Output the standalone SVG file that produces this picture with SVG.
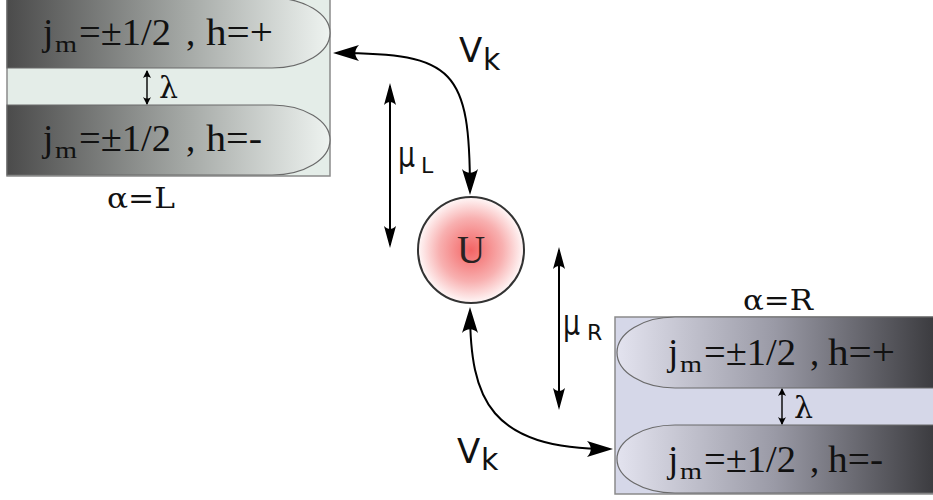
<svg xmlns="http://www.w3.org/2000/svg" width="933" height="500" viewBox="0 0 933 500">
  <defs>
    <linearGradient id="bandL" gradientUnits="userSpaceOnUse" x1="7" y1="0" x2="330" y2="0">
      <stop offset="0" stop-color="#4b4b4b"/>
      <stop offset="0.55" stop-color="#a4a8a5"/>
      <stop offset="1" stop-color="#eef3f0"/>
    </linearGradient>
    <linearGradient id="bandR" gradientUnits="userSpaceOnUse" x1="615" y1="0" x2="933" y2="0">
      <stop offset="0" stop-color="#e4e4f0"/>
      <stop offset="0.5" stop-color="#9a9aa6"/>
      <stop offset="1" stop-color="#3c3c40"/>
    </linearGradient>
    <radialGradient id="dot" cx="0.5" cy="0.5" r="0.5">
      <stop offset="0" stop-color="#f36464"/>
      <stop offset="0.6" stop-color="#f8b0b0"/>
      <stop offset="1" stop-color="#fff8f8"/>
    </radialGradient>
    <marker id="headV" markerUnits="userSpaceOnUse" markerWidth="30" markerHeight="20" orient="auto-start-reverse" overflow="visible">
      <path d="M 3 0 L -23 -8 C -18 -3 -18 3 -23 8 Z" fill="#000"/>
    </marker>
    <marker id="headM" markerUnits="userSpaceOnUse" markerWidth="26" markerHeight="16" orient="auto-start-reverse" overflow="visible">
      <path d="M 3 0 L -19 -6 C -15 -2 -15 2 -19 6 Z" fill="#000"/>
    </marker>
    <marker id="headS" markerUnits="userSpaceOnUse" markerWidth="10" markerHeight="10" orient="auto-start-reverse" overflow="visible">
      <path d="M 1 0 L -7 -4 C -5 -1.5 -5 1.5 -7 4 Z" fill="#000"/>
    </marker>
  </defs>
  <style>
    .box { stroke: #8a8a8a; stroke-width: 1.5; }
    .band { stroke: #6a6a6a; stroke-width: 1.2; }
    .lvl { font-family: "Liberation Serif", "DejaVu Serif", serif; font-size: 37px; fill: #111; }
    .sub { font-family: "Liberation Serif", "DejaVu Serif", serif; font-size: 24px; fill: #111; }
    .lam { font-family: "DejaVu Serif", "Liberation Serif", serif; font-size: 30px; fill: #111; }
    .lab { font-family: "DejaVu Serif", "Liberation Serif", serif; font-size: 27px; fill: #111; }
    .sans { font-family: "DejaVu Sans", "Liberation Sans", sans-serif; fill: #111; }
    .wire { fill: none; stroke: #000; stroke-width: 2; }
    .thin { fill: none; stroke: #000; stroke-width: 1.4; }
  </style>

  <!-- left lead, alpha = L -->
  <g id="leadL">
    <rect class="box" x="7" y="-2" width="323" height="178" fill="#e4ede8"/>
    <path class="band" d="M 7 -2 H 272 A 58 35 0 0 1 272 68 H 7 Z" fill="url(#bandL)"/>
    <path class="band" d="M 7 105 H 272 A 58 35 0 0 1 272 175 H 7 Z" fill="url(#bandL)"/>
    <text class="lvl" x="43" y="45">j</text>
    <text class="sub" x="55" y="52" textLength="22" lengthAdjust="spacingAndGlyphs">m</text>
    <text class="lvl" x="79" y="45" textLength="92" lengthAdjust="spacingAndGlyphs">=±1/2</text>
    <text class="lvl" x="186" y="45">,</text>
    <text class="lvl" x="206" y="45" textLength="67" lengthAdjust="spacingAndGlyphs">h=+</text>
    <text class="lvl" x="43" y="151">j</text>
    <text class="sub" x="55" y="158" textLength="22" lengthAdjust="spacingAndGlyphs">m</text>
    <text class="lvl" x="79" y="151" textLength="92" lengthAdjust="spacingAndGlyphs">=±1/2</text>
    <text class="lvl" x="186" y="151">,</text>
    <text class="lvl" x="206" y="151" textLength="56" lengthAdjust="spacingAndGlyphs">h=-</text>
    <text class="lam" x="159" y="98">λ</text>
    <text class="lab" x="107" y="208" textLength="68" lengthAdjust="spacingAndGlyphs">α=L</text>
  </g>

  <!-- right lead, alpha = R -->
  <g id="leadR">
    <rect class="box" x="615" y="317" width="320" height="177" fill="#d5d7e8"/>
    <path class="band" d="M 935 317 H 675 A 58 35.5 0 0 0 675 388 H 935 Z" fill="url(#bandR)"/>
    <path class="band" d="M 935 425 H 675 A 58 34 0 0 0 675 493 H 935 Z" fill="url(#bandR)"/>
    <text class="lvl" x="668" y="365">j</text>
    <text class="sub" x="680" y="372" textLength="22" lengthAdjust="spacingAndGlyphs">m</text>
    <text class="lvl" x="704" y="365" textLength="92" lengthAdjust="spacingAndGlyphs">=±1/2</text>
    <text class="lvl" x="810" y="365">,</text>
    <text class="lvl" x="828" y="365" textLength="67" lengthAdjust="spacingAndGlyphs">h=+</text>
    <text class="lvl" x="668" y="472">j</text>
    <text class="sub" x="680" y="479" textLength="22" lengthAdjust="spacingAndGlyphs">m</text>
    <text class="lvl" x="704" y="472" textLength="92" lengthAdjust="spacingAndGlyphs">=±1/2</text>
    <text class="lvl" x="810" y="472">,</text>
    <text class="lvl" x="828" y="472" textLength="55" lengthAdjust="spacingAndGlyphs">h=-</text>
    <text class="lam" x="794" y="418">λ</text>
    <text class="lab" x="743" y="310" textLength="70" lengthAdjust="spacingAndGlyphs">α=R</text>
  </g>

  <!-- interacting dot -->
  <g id="dotU">
    <circle cx="471" cy="250" r="53" fill="url(#dot)" stroke="#333" stroke-width="2"/>
    <text x="471" y="263" text-anchor="middle" font-family="Liberation Serif, DejaVu Serif, serif" font-size="39" fill="#2a2222">U</text>
  </g>

  <!-- tunnelling couplings, bias windows and level splittings -->
  <g id="connectors">
    <path class="wire" d="M 336 53 C 455 53 470 70 470 192" marker-start="url(#headV)" marker-end="url(#headV)"/>
    <path class="wire" d="M 470 310 C 470 400 490 449 610 449" marker-start="url(#headV)" marker-end="url(#headV)"/>
    <path class="wire" d="M 390 86 L 390 245" marker-start="url(#headM)" marker-end="url(#headM)"/>
    <path class="wire" d="M 559 250 L 559 407" marker-start="url(#headM)" marker-end="url(#headM)"/>
    <path class="thin" d="M 147 71 L 147 104" marker-start="url(#headS)" marker-end="url(#headS)"/>
    <path class="thin" d="M 782 389 L 782 424" marker-start="url(#headS)" marker-end="url(#headS)"/>
  </g>

  <!-- labels -->
  <g id="labels" class="sans">
    <text x="459" y="62" font-size="34">V</text>
    <text x="483" y="70" font-size="30">k</text>
    <text x="457" y="463" font-size="34">V</text>
    <text x="481" y="470" font-size="30">k</text>
    <text x="398" y="167" font-size="36" textLength="17" lengthAdjust="spacingAndGlyphs">μ</text>
    <text x="421" y="173" font-size="22">L</text>
    <text x="563" y="335" font-size="36" textLength="17" lengthAdjust="spacingAndGlyphs">μ</text>
    <text x="587" y="340" font-size="22">R</text>
  </g>
</svg>
